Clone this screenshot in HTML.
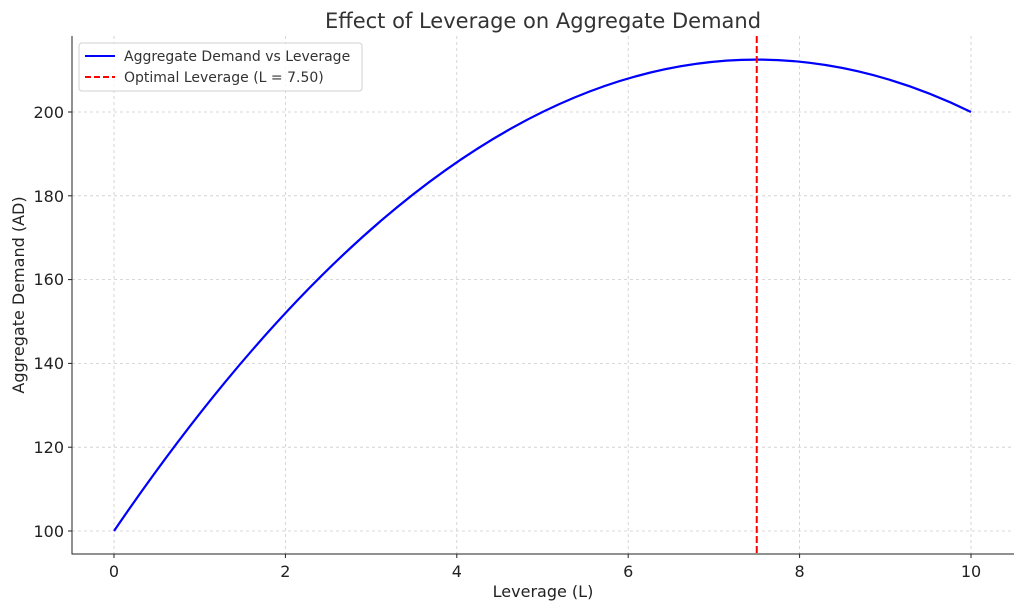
<!DOCTYPE html>
<html><head><meta charset="utf-8"><style>
html,body{margin:0;padding:0;background:#fff;}
svg{display:block;font-family:"DejaVu Sans","Liberation Sans",sans-serif;}
</style></head><body>
<svg width="1024" height="610" viewBox="0 0 1024 610" xmlns="http://www.w3.org/2000/svg">
<rect width="1024" height="610" fill="#fff"/>
<g stroke="#cccccc" stroke-width="0.8" stroke-dasharray="3,3">
<line x1="114" y1="36" x2="114" y2="554"/>
<line x1="285.4" y1="36" x2="285.4" y2="554"/>
<line x1="456.8" y1="36" x2="456.8" y2="554"/>
<line x1="628.2" y1="36" x2="628.2" y2="554"/>
<line x1="799.6" y1="36" x2="799.6" y2="554"/>
<line x1="971" y1="36" x2="971" y2="554"/>
<line x1="72" y1="531" x2="1014" y2="531"/>
<line x1="72" y1="447.2" x2="1014" y2="447.2"/>
<line x1="72" y1="363.4" x2="1014" y2="363.4"/>
<line x1="72" y1="279.6" x2="1014" y2="279.6"/>
<line x1="72" y1="195.8" x2="1014" y2="195.8"/>
<line x1="72" y1="112" x2="1014" y2="112"/>
</g>
<path d="M114,531 Q542.5,-97.5 971,112" fill="none" stroke="#0000ff" stroke-width="2.2"/>
<line x1="756.75" y1="36" x2="756.75" y2="554" stroke="#ff0000" stroke-width="2" stroke-dasharray="7,3"/>
<g stroke="#222" stroke-width="1">
<line x1="72" y1="36" x2="72" y2="554.5"/>
<line x1="71.5" y1="554" x2="1014" y2="554"/>
</g>
<g stroke="#222" stroke-width="1">
<line x1="114" y1="554" x2="114" y2="558"/><line x1="285.4" y1="554" x2="285.4" y2="558"/><line x1="456.8" y1="554" x2="456.8" y2="558"/><line x1="628.2" y1="554" x2="628.2" y2="558"/><line x1="799.6" y1="554" x2="799.6" y2="558"/><line x1="971" y1="554" x2="971" y2="558"/>
<line x1="68" y1="531" x2="72" y2="531"/><line x1="68" y1="447.2" x2="72" y2="447.2"/><line x1="68" y1="363.4" x2="72" y2="363.4"/><line x1="68" y1="279.6" x2="72" y2="279.6"/><line x1="68" y1="195.8" x2="72" y2="195.8"/><line x1="68" y1="112" x2="72" y2="112"/>
</g>
<g font-size="16" fill="#222" text-anchor="middle">
<text x="114" y="577">0</text><text x="285.4" y="577">2</text><text x="456.8" y="577">4</text><text x="628.2" y="577">6</text><text x="799.6" y="577">8</text><text x="971" y="577">10</text>
</g>
<g font-size="16" fill="#222" text-anchor="end">
<text x="64" y="537">100</text><text x="64" y="453">120</text><text x="64" y="369">140</text><text x="64" y="285">160</text><text x="64" y="202">180</text><text x="64" y="118">200</text>
</g>
<text x="543" y="597" font-size="16" fill="#222" text-anchor="middle">Leverage (L)</text>
<text transform="translate(24,295) rotate(-90)" font-size="16" fill="#222" text-anchor="middle">Aggregate Demand (AD)</text>
<text x="543" y="28" font-size="21" fill="#333" text-anchor="middle">Effect of Leverage on Aggregate Demand</text>
<rect x="79" y="43" width="283" height="48" rx="3" fill="#fff" fill-opacity="0.8" stroke="#d0d0d0"/>
<line x1="85" y1="56" x2="115" y2="56" stroke="#0000ff" stroke-width="2"/>
<line x1="85" y1="77" x2="115" y2="77" stroke="#ff0000" stroke-width="2" stroke-dasharray="6,3"/>
<text x="124" y="61" font-size="14" fill="#333">Aggregate Demand vs Leverage</text>
<text x="124" y="82" font-size="14" fill="#333">Optimal Leverage (L = 7.50)</text>
</svg>
</body></html>
